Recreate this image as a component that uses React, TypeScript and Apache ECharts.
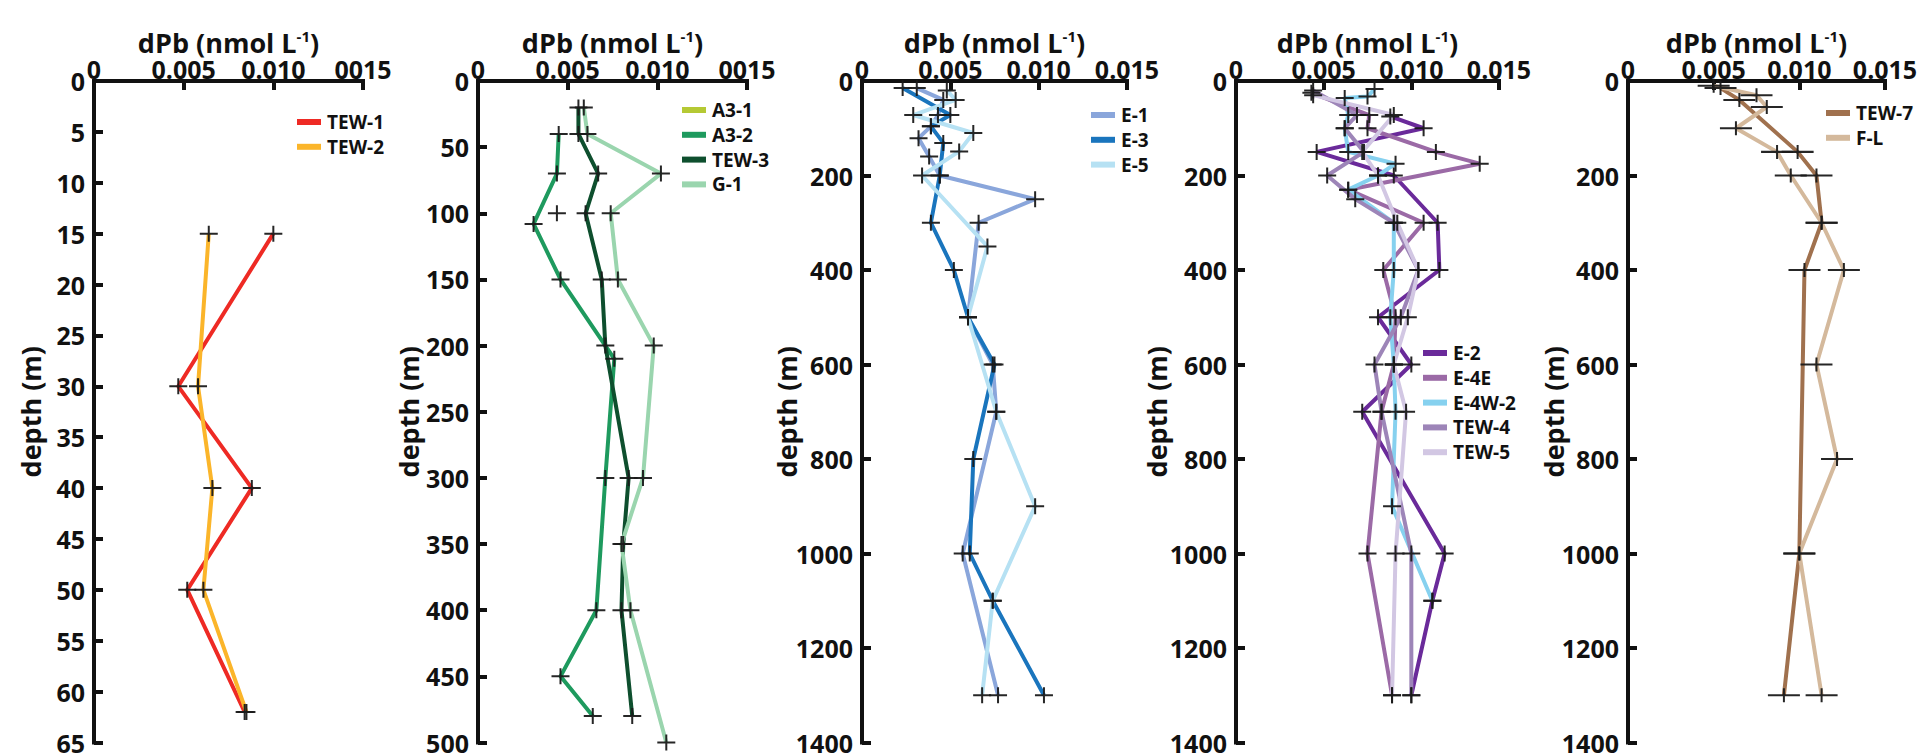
import React, { useEffect, useRef } from "react";
import * as echarts from "echarts";

// ---- tick labels ----
const xTicksA = ["0", "0.005", "0.010", "0015"];
const xTicksB = ["0", "0.005", "0.010", "0.015"];

// ---- data: [depth (m), dPb (nmol/L)] ----
// Panel 1
const tew1 = [[15, 0.0100], [30, 0.0047], [40, 0.0088], [50, 0.0052], [62, 0.0084]];
const tew2 = [[15, 0.0064], [30, 0.0058], [40, 0.0066], [50, 0.0061], [62, 0.0085]];
// Panel 2
const a31 = [[100, 0.0044]];
const a32 = [[40, 0.0045], [70, 0.0044], [108, 0.0031], [150, 0.0046], [210, 0.0076], [300, 0.0071], [400, 0.0066], [450, 0.0046], [480, 0.0064]];
const tew3 = [[20, 0.0056], [40, 0.0056], [70, 0.0067], [100, 0.0060], [150, 0.0069], [200, 0.0071], [300, 0.0084], [350, 0.0081], [400, 0.0080], [480, 0.0086]];
const g1 = [[20, 0.0059], [40, 0.0061], [70, 0.0102], [100, 0.0074], [150, 0.0078], [200, 0.0098], [300, 0.0092], [350, 0.0080], [400, 0.0085], [500, 0.0105]];
// Panel 3
const e1 = [[15, 0.0031], [40, 0.0046], [72, 0.0043], [96, 0.0039], [121, 0.0032], [160, 0.0038], [200, 0.0044], [250, 0.0098], [300, 0.0066], [500, 0.0060], [600, 0.0074], [700, 0.0076], [1000, 0.0057], [1300, 0.0077]];
const e3 = [[15, 0.0023], [72, 0.0050], [96, 0.0039], [131, 0.0046], [200, 0.0044], [300, 0.0039], [400, 0.0052], [500, 0.0060], [600, 0.0075], [800, 0.0063], [1000, 0.0061], [1100, 0.0074], [1300, 0.0103]];
const e5 = [[20, 0.0048], [40, 0.0053], [72, 0.0029], [110, 0.0063], [149, 0.0055], [200, 0.0034], [350, 0.0071], [500, 0.0060], [700, 0.0076], [900, 0.0098], [1100, 0.0074], [1300, 0.0068]];
// Panel 4
const e2 = [[75, 0.0088], [100, 0.0107], [150, 0.0046], [200, 0.0090], [300, 0.0115], [400, 0.0116], [500, 0.0081], [600, 0.0100], [700, 0.0072], [1000, 0.0119], [1100, 0.0112], [1300, 0.0100]];
const e4e = [[25, 0.0043], [72, 0.0076], [100, 0.0075], [150, 0.0114], [175, 0.0139], [230, 0.0064], [300, 0.0107], [400, 0.0084], [500, 0.0091], [600, 0.0090], [700, 0.0083], [1000, 0.0075], [1300, 0.0089]];
const e4w2 = [[17, 0.0079], [33, 0.0075], [36, 0.0062], [72, 0.0064], [100, 0.0062], [150, 0.0064], [175, 0.0091], [200, 0.0081], [230, 0.0064], [300, 0.0090], [400, 0.0090], [500, 0.0088], [600, 0.0090], [700, 0.0091], [900, 0.0089], [1100, 0.0112]];
const tew4 = [[20, 0.0044], [72, 0.0069], [100, 0.0062], [150, 0.0073], [200, 0.0052], [250, 0.0068], [300, 0.0090], [400, 0.0104], [500, 0.0094], [600, 0.0079], [700, 0.0083], [1000, 0.0100], [1300, 0.0100]];
const tew5 = [[30, 0.0044], [72, 0.0090], [150, 0.0072], [200, 0.0081], [300, 0.0092], [400, 0.0104], [500, 0.0098], [600, 0.0090], [700, 0.0097], [1000, 0.0091], [1300, 0.0089]];
// Panel 5
const tew7 = [[15, 0.0054], [40, 0.0065], [150, 0.0099], [200, 0.0110], [300, 0.0113], [400, 0.0103], [1000, 0.0100], [1300, 0.0091]];
const fl = [[10, 0.0050], [30, 0.0075], [55, 0.0081], [100, 0.0063], [150, 0.0087], [200, 0.0095], [300, 0.0113], [400, 0.0126], [600, 0.0110], [800, 0.0122], [1000, 0.0100], [1300, 0.0113]];

const PLUS = "path://M-1,-8H1V-1H9V1H1V8H-1V1H-9V-1H-1Z";
const PLUS_WIDE = "path://M-1,-7H1V-1H16V1H1V7H-1V1H-16V-1H-1Z";

const panels = [
  {
    left: 94, width: 269, yMax: 65, yInterval: 5, xLabels: xTicksA, nameGap: 50,
    legend: { x: 297, y: 122 }, plus: PLUS, plusSize: [18, 16],
    series: [
      { name: "TEW-1", color: "#ee2a24", data: tew1 },
      { name: "TEW-2", color: "#fbb52a", data: tew2 },
    ],
  },
  {
    left: 478, width: 269, yMax: 500, yInterval: 50, xLabels: xTicksA, nameGap: 56,
    legend: { x: 682, y: 110 }, plus: PLUS, plusSize: [18, 16],
    series: [
      { name: "A3-1", color: "#b5c934", data: a31 },
      { name: "A3-2", color: "#1e9a5e", data: a32 },
      { name: "TEW-3", color: "#0e4f2e", data: tew3 },
      { name: "G-1", color: "#9ad5ae", data: g1 },
    ],
  },
  {
    left: 862, width: 265, yMax: 1400, yInterval: 200, xLabels: xTicksB, nameGap: 62,
    legend: { x: 1091, y: 115 }, plus: PLUS, plusSize: [18, 16],
    series: [
      { name: "E-1", color: "#8aa6db", data: e1 },
      { name: "E-3", color: "#1a75bd", data: e3 },
      { name: "E-5", color: "#b6e1f3", data: e5 },
    ],
  },
  {
    left: 1236, width: 263, yMax: 1400, yInterval: 200, xLabels: xTicksB, nameGap: 66,
    legend: { x: 1423, y: 353 }, plus: PLUS, plusSize: [18, 16],
    series: [
      { name: "E-2", color: "#6a2a9a", data: e2 },
      { name: "E-4E", color: "#9b6aa6", data: e4e },
      { name: "E-4W-2", color: "#86d1ef", data: e4w2 },
      { name: "TEW-4", color: "#9d85b8", data: tew4 },
      { name: "TEW-5", color: "#d2c7e3", data: tew5 },
    ],
  },
  {
    left: 1628, width: 257, yMax: 1400, yInterval: 200, xLabels: xTicksB, nameGap: 61,
    legend: { x: 1826, y: 113 }, plus: PLUS_WIDE, plusSize: [32, 14],
    series: [
      { name: "TEW-7", color: "#a0714e", data: tew7 },
      { name: "F-L", color: "#d4b99c", data: fl },
    ],
  },
];

const FONT = "Open Sans";
const INK = "#111";

export default function App() {
  const ref = useRef<HTMLDivElement>(null);
  useEffect(() => {
    if (!ref.current) return;
    const chart = echarts.init(ref.current, undefined, { renderer: "svg" });
    const grid: any[] = [];
    const xAxis: any[] = [];
    const yAxis: any[] = [];
    const graphic: any[] = [];
    const series: any[] = [];
    panels.forEach((p, i) => {
      grid.push({ left: p.left, top: 81, width: p.width, height: 664 });
      xAxis.push({
        type: "value", gridIndex: i, position: "top", min: 0, max: 0.015, interval: 0.005,
        name: "{a|dPb (nmol L}{s|-1}{a|)}", nameLocation: "middle", nameGap: 25, nameMoveOverlap: false,
        nameTextStyle: {
          lineHeight: 28,
          rich: {
            a: { fontSize: 27, fontWeight: "bold", fontFamily: FONT, color: INK, lineHeight: 28 },
            s: { fontSize: 15, fontWeight: "bold", fontFamily: FONT, color: INK, lineHeight: 16, verticalAlign: "top" },
          },
        },
        axisLine: { show: true, lineStyle: { color: INK, width: 4, cap: "square" } },
        axisTick: { show: true, inside: true, length: 9, lineStyle: { color: INK, width: 4 } },
        axisLabel: {
          margin: 0, fontSize: 25, lineHeight: 24, fontWeight: "bold", fontFamily: FONT, color: INK,
          formatter: (v: number) => p.xLabels[Math.round(v / 0.005)] ?? "",
        },
        splitLine: { show: false },
      });
      yAxis.push({
        type: "value", gridIndex: i, inverse: true, min: 0, max: p.yMax, interval: p.yInterval,
        name: "depth (m)", nameLocation: "middle", nameGap: p.nameGap, nameMoveOverlap: false,
        nameTextStyle: { fontSize: 27, fontWeight: "bold", fontFamily: FONT, color: INK },
        axisLine: { show: true, lineStyle: { color: INK, width: 4, cap: "square" } },
        axisTick: { show: true, inside: true, length: 9, lineStyle: { color: INK, width: 4 } },
        axisLabel: {
          margin: 9, fontSize: 25, lineHeight: 18, fontWeight: "bold", fontFamily: FONT, color: INK,
          formatter: (v: number) => String(v),
        },
        splitLine: { show: false },
      });
      p.series.forEach((s, k) => {
        const cy = p.legend.y + k * 24.8;
        graphic.push({
          type: "rect", x: p.legend.x, y: cy - 3, shape: { x: 0, y: 0, width: 24, height: 6 },
          style: { fill: s.color }, silent: true,
        });
        graphic.push({
          type: "text", x: p.legend.x + 30, y: cy,
          style: {
            text: s.name, font: "bold 19px 'Open Sans'", fontSize: 19, fontWeight: "bold", fontFamily: FONT, fill: INK,
            verticalAlign: "middle", align: "left",
          },
          silent: true,
        });
        const pts = s.data.map(([d, v]) => [v, d]);
        series.push({
          type: "line", name: s.name, xAxisIndex: i, yAxisIndex: i, data: pts,
          color: s.color, symbol: "none", lineStyle: { width: 4, color: s.color }, z: 2,
        });
        series.push({
          type: "scatter", name: s.name + " samples", xAxisIndex: i, yAxisIndex: i, data: pts,
          symbol: p.plus, symbolSize: p.plusSize, itemStyle: { color: "#1a1a1a", opacity: 0.95 }, z: 3, silent: true,
        });
      });
    });
    chart.setOption({ animation: false, grid, xAxis, yAxis, graphic, series });
    return () => chart.dispose();
  }, []);
  return <div ref={ref} style={{ position: "absolute", left: 0, top: 0, width: 1926, height: 755 }} />;
}
